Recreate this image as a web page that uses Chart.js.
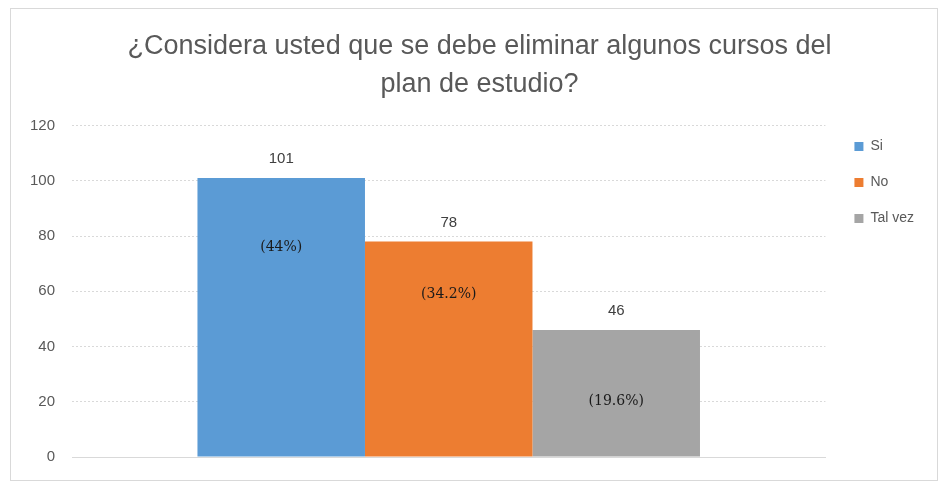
<!DOCTYPE html>
<html>
<head>
<meta charset="utf-8">
<script src="https://cdn.jsdelivr.net/npm/chart.js@4.4.1/dist/chart.umd.min.js"></script>
<style>
  html, body { margin: 0; padding: 0; background: #fff; }
  #wrap { position: relative; width: 940px; height: 483px; }
</style>
</head>
<body>
<div id="wrap"><canvas id="chart" width="940" height="483"></canvas></div>
<script>
// data
const categories = [''];
const seriesNames = ['Si', 'No', 'Tal vez'];
const seriesValues = [101, 78, 46];
const percentLabels = ['(44%)', '(34.2%)', '(19.6%)'];
const seriesColors = ['#5b9bd5', '#ed7d31', '#a5a5a5'];
const yTicks = [0, 20, 40, 60, 80, 100, 120];

// where the percentage text sits inside each bar (in axis units)
const percentLabelAt = [76, 59, 20];

const frame = {
  id: 'frame',
  beforeDraw(chart) {
    const c = chart.ctx;
    c.save();
    c.fillStyle = '#fff';
    c.fillRect(0, 0, chart.width, chart.height);
    c.strokeStyle = '#d9d9d9';
    c.lineWidth = 1;
    c.strokeRect(10.5, 8.5, 927, 472);
    c.restore();
  }
};

// nudge title to the right and legend up, like the original
const nudge = {
  id: 'nudge',
  afterLayout(chart) {
    if (chart.titleBlock) {
      chart.titleBlock.left += 11;
      chart.titleBlock.right += 11;
    }
    if (chart.legend) {
      chart.legend.top -= 8;
      chart.legend.bottom -= 8;
    }
  }
};

const barLabels = {
  id: 'barLabels',
  afterDatasetsDraw(chart) {
    const c = chart.ctx;
    const y = chart.scales.y;
    c.save();
    c.textAlign = 'center';
    c.textBaseline = 'middle';
    chart.data.datasets.forEach((ds, i) => {
      const bar = chart.getDatasetMeta(i).data[0];
      c.fillStyle = '#404040';
      c.font = '15px "Liberation Sans", Arial, sans-serif';
      c.fillText(String(ds.data[0]), bar.x, bar.y - 19);
      c.fillStyle = '#1a1a1a';
      c.font = '14px "DejaVu Serif", "Liberation Serif", serif';
      c.fillText(percentLabels[i], bar.x, y.getPixelForValue(percentLabelAt[i]));
    });
    c.restore();
  }
};

new Chart(document.getElementById('chart'), {
  type: 'bar',
  data: {
    labels: categories,
    datasets: seriesNames.map((name, i) => ({
      label: name,
      data: [seriesValues[i]],
      backgroundColor: seriesColors[i],
      categoryPercentage: 0.667,
      barPercentage: 1.0
    }))
  },
  options: {
    responsive: false,
    animation: false,
    layout: { padding: { left: 13, right: 16, top: 0, bottom: 17 } },
    scales: {
      x: {
        ticks: { display: false },
        grid: { display: false },
        border: { display: true, color: '#d9d9d9' }
      },
      y: {
        min: 0,
        max: 120,
        afterBuildTicks(axis) { axis.ticks = yTicks.map(v => ({ value: v })); },
        ticks: {
          color: '#595959',
          font: { size: 15, family: '"Liberation Sans", Arial, sans-serif' },
          padding: 17
        },
        grid: { color: '#d9d9d9', drawTicks: false },
        border: { display: false, dash: [2, 2] }
      },
      // empty spacer between plot and legend
      gap: {
        position: 'right',
        display: true,
        ticks: { display: false },
        grid: { display: false, drawTicks: false },
        border: { display: false },
        afterFit(axis) { axis.width = 7; }
      }
    },
    plugins: {
      title: {
        display: true,
        text: ['¿Considera usted que se debe eliminar algunos cursos del', 'plan de estudio?'],
        color: '#595959',
        font: { size: 27, weight: 'normal', family: '"Liberation Sans", Arial, sans-serif', lineHeight: 1.4 },
        padding: { top: 28, bottom: 22 }
      },
      legend: {
        position: 'right',
        align: 'start',
        fullSize: false,
        labels: {
          boxWidth: 9,
          boxHeight: 9,
          color: '#595959',
          font: { size: 14, family: '"Liberation Sans", Arial, sans-serif' },
          padding: 22
        }
      },
      tooltip: { enabled: false }
    }
  },
  plugins: [frame, nudge, barLabels]
});
</script>
</body>
</html>
